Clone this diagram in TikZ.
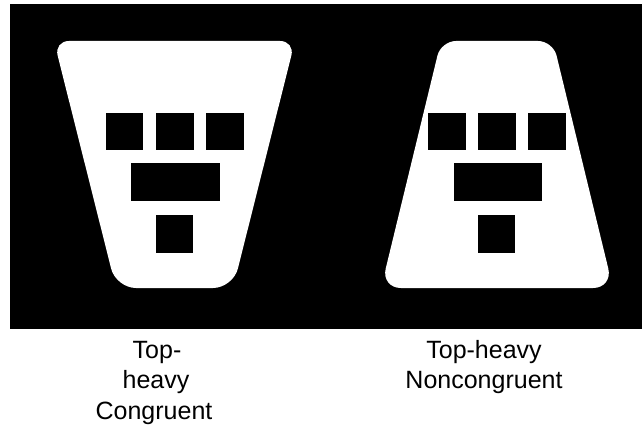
\documentclass[tikz,border=0pt]{standalone}
\usepackage{fontspec}
\setmainfont{Liberation Sans}
\begin{document}
\begin{tikzpicture}[x=1pt,y=-1pt,
  lbl/.style={anchor=base,inner sep=0pt,font=\fontsize{25}{30}\selectfont},
  hole/.style={fill=black}]
\useasboundingbox (0,0) rectangle (642,425);
\fill[white] (0,0) rectangle (642,425);
\fill[black] (10,4) rectangle (642,329);
% left (top-heavy congruent) shape
\fill[white] (174.5,41) [rounded corners=15pt] -- (295,41) [rounded corners=20pt] -- (233,288) -- (116,288) [rounded corners=15pt] -- (54,41) -- cycle;
\fill[hole] (105.5,113) rectangle (143,150);
\fill[hole] (156,113) rectangle (194,150);
\fill[hole] (206,113) rectangle (243.5,150);
\fill[hole] (131,163) rectangle (220,201);
\fill[hole] (155.5,215) rectangle (193,253);
% right (top-heavy noncongruent) shape
\fill[white] (497,41) [rounded corners=15pt] -- (553,41) [rounded corners=20pt] -- (613,288) -- (381,288) [rounded corners=15pt] -- (441,41) -- cycle;
\fill[hole] (428,113) rectangle (466,150);
\fill[hole] (478,113) rectangle (516,150);
\fill[hole] (528,113) rectangle (566,150);
\fill[hole] (453.5,163) rectangle (542,201);
\fill[hole] (478,215) rectangle (515,253);
% labels
\node[lbl] (l1) at (157,358) {Top-};
\node[lbl] (l2) at (156,388.5) {heavy};
\node[lbl] (l3) at (154,419) {Congruent};
\node[lbl] (r1) at (484,358) {Top-heavy};
\node[lbl] (r2) at (484,388.5) {Noncongruent};
\end{tikzpicture}
\end{document}
